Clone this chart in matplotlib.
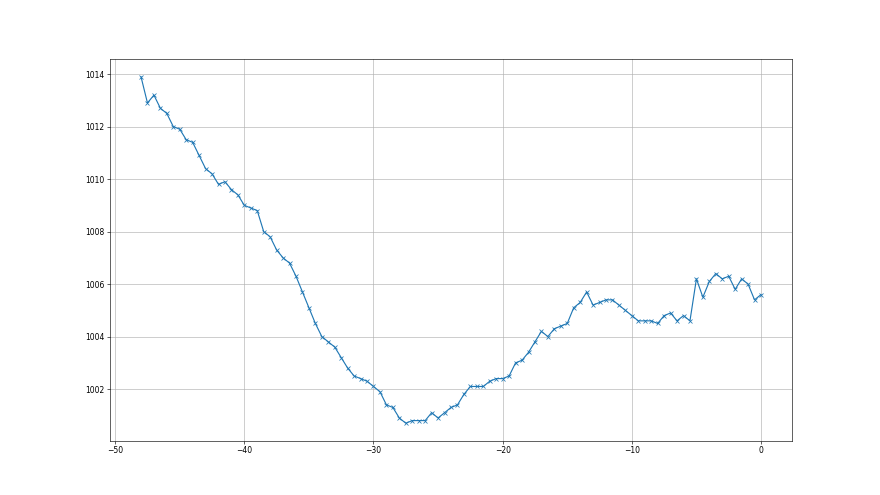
import numpy as np
import matplotlib
matplotlib.use('Agg')
import matplotlib.pyplot as plt

# hours relative to now, half-hour steps
hours = np.arange(-48, 0.01, 0.5)

pressure = [
    1013.9, 1012.9, 1013.2, 1012.7, 1012.5, 1012.0, 1011.9, 1011.5, 1011.4, 1010.9,
    1010.4, 1010.2, 1009.8, 1009.9, 1009.6, 1009.4, 1009.0, 1008.9, 1008.8, 1008.0,
    1007.8, 1007.3, 1007.0, 1006.8, 1006.3, 1005.7, 1005.1, 1004.5, 1004.0, 1003.8,
    1003.6, 1003.2, 1002.8, 1002.5, 1002.4, 1002.3, 1002.1, 1001.9, 1001.4, 1001.3,
    1000.9, 1000.7, 1000.8, 1000.8, 1000.8, 1001.1, 1000.9, 1001.1, 1001.3, 1001.4,
    1001.8, 1002.1, 1002.1, 1002.1, 1002.3, 1002.4, 1002.4, 1002.5, 1003.0, 1003.1,
    1003.4, 1003.8, 1004.2, 1004.0, 1004.3, 1004.4, 1004.5, 1005.1, 1005.3, 1005.7,
    1005.2, 1005.3, 1005.4, 1005.4, 1005.2, 1005.0, 1004.8, 1004.6, 1004.6, 1004.6,
    1004.5, 1004.8, 1004.9, 1004.6, 1004.8, 1004.6, 1006.2, 1005.5, 1006.1, 1006.4,
    1006.2, 1006.3, 1005.8, 1006.2, 1006.0, 1005.4, 1005.6,
]

fig, ax = plt.subplots(figsize=(16, 9), dpi=55)
ax.plot(hours, pressure, marker='x')
ax.grid(True)

fig.savefig('out.png', dpi=55)
